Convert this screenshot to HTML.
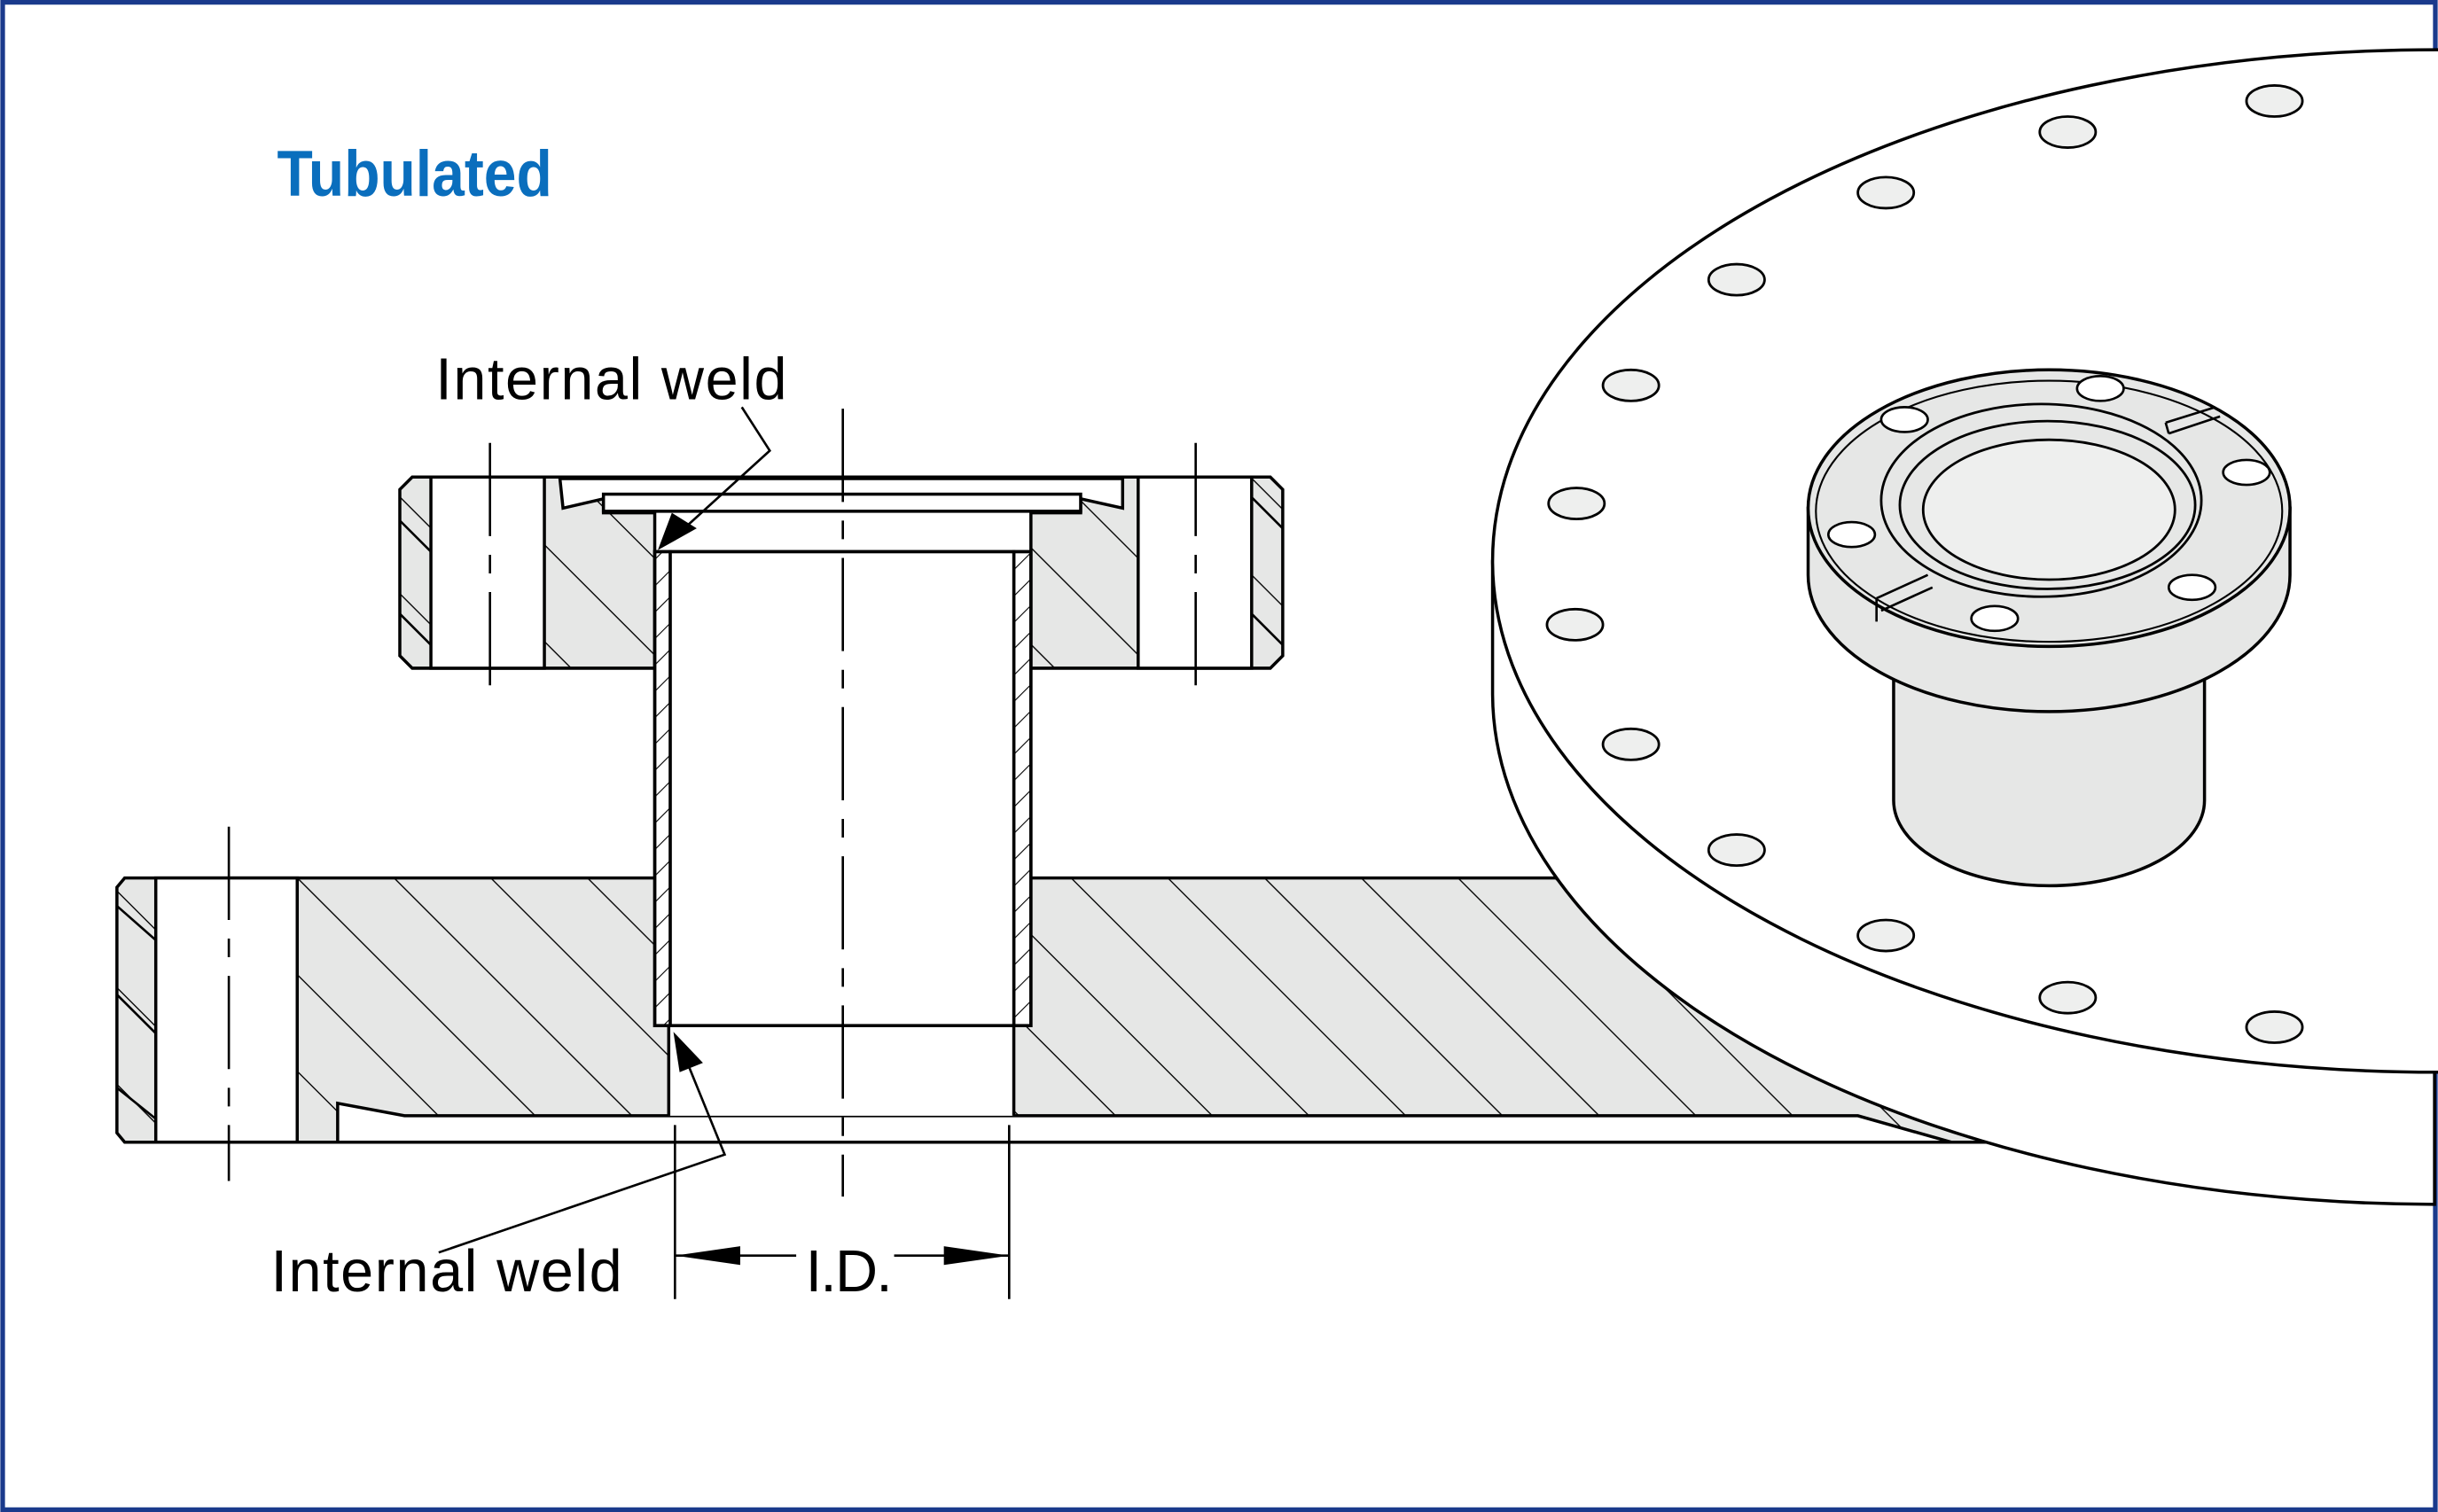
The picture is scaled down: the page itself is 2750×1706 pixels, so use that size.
<!DOCTYPE html>
<html><head><meta charset="utf-8"><style>
html,body{margin:0;padding:0;background:#fff;}
svg{display:block;}
</style></head><body>
<svg width="2750" height="1706" viewBox="0 0 1568 973" xmlns="http://www.w3.org/2000/svg">
<defs>
<pattern id="h" patternUnits="userSpaceOnUse" width="44" height="44" patternTransform="rotate(45)">
<rect width="44" height="44" fill="#e6e7e6"/><line x1="0" y1="0" x2="44" y2="0" stroke="#000" stroke-width="1.5"/>
</pattern>
<pattern id="hf" patternUnits="userSpaceOnUse" width="12" height="12" patternTransform="rotate(-45)">
<rect width="12" height="12" fill="#fff"/><line x1="0" y1="0" x2="12" y2="0" stroke="#000" stroke-width="1.2"/>
</pattern>
</defs>
<rect x="1.5" y="1.5" width="1565" height="970" fill="#fff" stroke="#1a3a8c" stroke-width="3"/>
<text x="178" y="126" font-family="Liberation Sans, sans-serif" font-weight="bold" font-size="42" fill="#0a6ebd" textLength="177" lengthAdjust="spacingAndGlyphs">Tubulated</text>

<g stroke="#000" stroke-width="2" fill="#fff">
<path d="M80,565 L1400,565 L1400,735 L80,735 L75,729 L75,571 Z" fill="url(#h)"/>
<rect x="100" y="565" width="91" height="170"/>
<path d="M75,583 L100,605 M75,640 L100,665 M75,700 L100,720" fill="none" stroke-width="1.5"/>
<path d="M217,735 L217,710 L260,718 L1195,718 L1255,735 Z"/>
<rect x="430" y="565" width="222" height="153" stroke="none"/>
<path d="M430,660 L430,718 M652,660 L652,718" fill="none"/>

<path d="M960,362 L960,447 A608,329 0 0 0 1566,775 L1566,690 Z"/>
<ellipse cx="1568" cy="361" rx="608" ry="329"/>
<g fill="#eeefee" stroke-width="1.6">
<ellipse cx="1463" cy="65" rx="18" ry="10"/><ellipse cx="1330" cy="85" rx="18" ry="10"/><ellipse cx="1213" cy="124" rx="18" ry="10"/><ellipse cx="1117" cy="180" rx="18" ry="10"/><ellipse cx="1049" cy="248" rx="18" ry="10"/><ellipse cx="1014" cy="324" rx="18" ry="10"/><ellipse cx="1013" cy="402" rx="18" ry="10"/><ellipse cx="1049" cy="479" rx="18" ry="10"/><ellipse cx="1117" cy="547" rx="18" ry="10"/><ellipse cx="1213" cy="602" rx="18" ry="10"/><ellipse cx="1330" cy="642" rx="18" ry="10"/><ellipse cx="1463" cy="661" rx="18" ry="10"/>
</g>
<path d="M1218,420 L1218,515 A100,55 0 0 0 1418,515 L1418,420 Z" fill="#e6e7e6"/>
<path d="M1163,327 L1163,370 A155,88 0 0 0 1473,370 L1473,327 Z" fill="#e6e7e6"/>
<ellipse cx="1318" cy="327" rx="155" ry="89" fill="#e6e7e6"/>
<ellipse cx="1318" cy="329" rx="150" ry="84" fill="none" stroke-width="1.2"/>
<ellipse cx="1313" cy="322" rx="103" ry="62" fill="#e6e7e6" stroke-width="1.6"/>
<ellipse cx="1317" cy="325" rx="95" ry="54" fill="#e6e7e6" stroke-width="1.6"/>
<ellipse cx="1318" cy="328" rx="81" ry="45" fill="#eeefee" stroke-width="1.6"/>
<g fill="#fff" stroke-width="1.5">
<ellipse cx="1351" cy="250" rx="15" ry="8"/><ellipse cx="1225" cy="270" rx="15" ry="8"/><ellipse cx="1445" cy="304" rx="15" ry="8"/><ellipse cx="1191" cy="344" rx="15" ry="8"/><ellipse cx="1410" cy="378" rx="15" ry="8"/><ellipse cx="1283" cy="398" rx="15" ry="8"/>
</g>
<path d="M1393,272 L1425,262 M1395,279 L1428,268 M1393,272 L1395,279" fill="none" stroke-width="1.5"/>
<path d="M1207,385 L1240,370 M1210,393 L1243,378 M1207,385 L1207,400" fill="none" stroke-width="1.5"/>

<path d="M265,307 L817,307 L825,315 L825,422 L817,430 L265,430 L257,422 L257,315 Z" fill="url(#h)"/>
<rect x="277" y="307" width="73" height="123"/>
<rect x="732" y="307" width="73" height="123"/>
<path d="M257,335 L277,355 M257,395 L277,415 M805,320 L825,340 M805,395 L825,415" fill="none" stroke-width="1.5"/>
<path d="M360,308 L362,327 L388,321 L388,330 L421,330 L421,430 L663,430 L663,330 L695,330 L695,321 L722,327 L722,308 Z"/>
<rect x="388" y="318" width="307" height="11"/>

<rect x="421" y="355" width="10" height="305" fill="url(#hf)"/>
<rect x="652" y="355" width="11" height="305" fill="url(#hf)"/>
<rect x="431" y="355" width="221" height="305"/>
<rect x="421" y="355" width="242" height="305" fill="none"/>

<g stroke-width="1.5" fill="none" stroke-dasharray="60,12,12,12">
<line x1="542" y1="263" x2="542" y2="770"/>
<line x1="315" y1="285" x2="315" y2="452"/>
<line x1="769" y1="285" x2="769" y2="452"/>
<line x1="147" y1="532" x2="147" y2="760"/>
</g>

<polyline points="477,262 495,290 440,340" fill="none" stroke-width="1.5"/>
<polygon points="423,354 432,330 448,340" fill="#000" stroke="none"/>
<polyline points="282,806 466,743 442,684" fill="none" stroke-width="1.5"/>
<polygon points="433,664 452,684 437,690" fill="#000" stroke="none"/>
<line x1="434" y1="724" x2="434" y2="836" stroke-width="1.5"/>
<line x1="649" y1="724" x2="649" y2="836" stroke-width="1.5"/>
<line x1="434" y1="808" x2="512" y2="808" stroke-width="1.5"/>
<line x1="575" y1="808" x2="649" y2="808" stroke-width="1.5"/>
<polygon points="434,808 476,802 476,814" fill="#000" stroke="none"/>
<polygon points="649,808 607,802 607,814" fill="#000" stroke="none"/>
</g>
<g font-family="Liberation Sans, sans-serif" font-size="38" fill="#000">
<text x="280" y="257" textLength="226">Internal weld</text>
<text x="174" y="831" textLength="226">Internal weld</text>
<text x="518" y="831" textLength="56">I.D.</text>
</g>
</svg>
</body></html>
